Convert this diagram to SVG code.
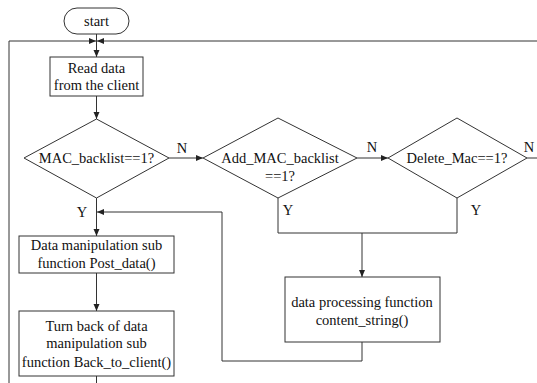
<svg xmlns="http://www.w3.org/2000/svg" width="537" height="383" viewBox="0 0 537 383">
<style>
.s{fill:#fff;stroke:#333;stroke-width:1}
.c{fill:none;stroke:#333;stroke-width:1}
.t{font-size:14.5px;fill:#111;text-anchor:middle}
</style>
<defs>
<marker id="a" markerUnits="userSpaceOnUse" markerWidth="8" markerHeight="8" refX="7" refY="4" orient="auto">
<path d="M0,1 L7,4 L0,7 Z" fill="#222"/>
</marker>
</defs>
<rect width="537" height="383" fill="#fff"/>
<g class="t" font-family="Times New Roman, Liberation Serif, DejaVu Serif, serif">
<g id="connectors">
<path class="c" d="M9,383 V41 H96" marker-end="url(#a)"/>
<path class="c" d="M537,41 H97" marker-end="url(#a)"/>
<path class="c" d="M96.5,34 V57" marker-end="url(#a)"/>
<path class="c" d="M96.5,96 V119" marker-end="url(#a)"/>
<path class="c" d="M169,158 H203" marker-end="url(#a)"/>
<path class="c" d="M357,158 H388" marker-end="url(#a)"/>
<path class="c" d="M527,158 H537"/>
<path class="c" d="M96.5,198 V236" marker-end="url(#a)"/>
<path class="c" d="M278,198 V233 H457 V198"/>
<path class="c" d="M362,233 V277" marker-end="url(#a)"/>
<path class="c" d="M362,342 V361 H222 V212 H97" marker-end="url(#a)"/>
<path class="c" d="M96.5,273 V311" marker-end="url(#a)"/>
<path class="c" d="M96.5,376 V383"/>
<text x="182" y="153">N</text>
<text x="372" y="152">N</text>
<text x="529" y="152">N</text>
<text x="82" y="217">Y</text>
<text x="288" y="215">Y</text>
<text x="476" y="215">Y</text>
</g>
<g id="start">
<rect class="s" x="64" y="8" width="65" height="26" rx="13"/>
<text x="96.5" y="26">start</text>
</g>
<g id="read">
<rect class="s" x="50" y="57" width="93" height="39"/>
<text x="96.5" y="73">Read data</text>
<text x="96.5" y="90">from the client</text>
</g>
<g id="d1">
<path class="s" d="M96.5,119 L169,158 L96.5,198 L24,158 Z"/>
<text x="96.5" y="163">MAC_backlist==1?</text>
</g>
<g id="d2">
<path class="s" d="M278,118 L357,158 L278,198 L203,158 Z"/>
<text x="280" y="163">Add_MAC_backlist</text>
<text x="280" y="181">==1?</text>
</g>
<g id="d3">
<path class="s" d="M457,118 L527,158 L457,198 L388,158 Z"/>
<text x="457" y="163">Delete_Mac==1?</text>
</g>
<g id="post">
<rect class="s" x="19" y="236" width="155" height="37"/>
<text x="96.5" y="250">Data manipulation sub</text>
<text x="96.5" y="268">function Post_data()</text>
</g>
<g id="back">
<rect class="s" x="19" y="311" width="155" height="65"/>
<text x="96.5" y="331">Turn back of data</text>
<text x="96.5" y="348">manipulation sub</text>
<text x="96.5" y="367">function Back_to_client()</text>
</g>
<g id="content">
<rect class="s" x="285" y="277" width="155" height="65"/>
<text x="362" y="307">data processing function</text>
<text x="362" y="325">content_string()</text>
</g>
</g>
</svg>
